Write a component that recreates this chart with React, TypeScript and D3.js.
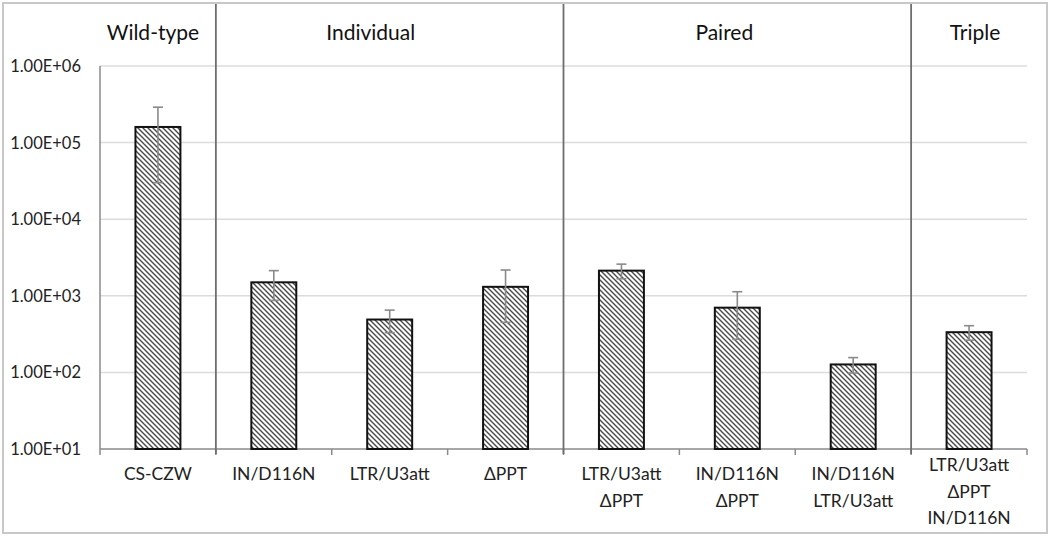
import React from "react";
import * as d3 from "d3";

const categories = ["CS-CZW", "IN/D116N", "LTR/U3att", "ΔPPT", "LTR/U3att ΔPPT", "IN/D116N ΔPPT", "IN/D116N LTR/U3att", "LTR/U3att ΔPPT IN/D116N"];
const categoryLines = [["CS-CZW"], ["IN/D116N"], ["LTR/U3att"], ["ΔPPT"], ["LTR/U3att", "ΔPPT"], ["IN/D116N", "ΔPPT"], ["IN/D116N", "LTR/U3att"], ["LTR/U3att", "ΔPPT", "IN/D116N"]];
const values = [160000, 1500, 490, 1310, 2130, 700, 127, 335];
const errors = [130000, 630, 160, 860, 460, 430, 29, 72];
const groupNames = ["Wild-type", "Individual", "Paired", "Triple"];
const groupStart = [0, 1, 4, 7];
const groupEnd = [1, 4, 7, 8];
const yTicks = [10, 100, 1000, 10000, 100000, 1000000];
const yTickLabels = ["1.00E+01", "1.00E+02", "1.00E+03", "1.00E+04", "1.00E+05", "1.00E+06"];

const W = 1050, H = 536;
const left = 100, right = 1027, top = 66, bottom = 449;
const labelNudge = [-5, -19, -13, 6];
const FONT = "Lato, 'Open Sans', sans-serif";

export default function App() {
  const x = d3.scaleBand<string>().domain(categories).range([left, right]).paddingInner(0.612).paddingOuter(0.306);
  const y = d3.scaleLog().domain([10, 1e6]).range([bottom, top]);
  const step = x.step();
  const bw = x.bandwidth();
  const boundaries = d3.range(categories.length + 1).map((i) => left + i * step);

  return (
    <svg width={W} height={H} style={{ position: "absolute", left: 0, top: 0, background: "#fff" }}>
      <defs>
        <pattern id="hatch" patternUnits="userSpaceOnUse" width={5} height={5}>
          <rect width={5} height={5} fill="#fff" />
          <path d="M-1,-1 L6,6 M-1,4 L1,6 M4,-1 L6,1" stroke="#4a4a4a" strokeWidth={1.4} />
        </pattern>
      </defs>
      <rect x={3} y={3} width={1044} height={530} fill="none" stroke="#c8c8c8" strokeWidth={2} />
      {yTicks.slice(1).map((t) => (
        <line key={t} x1={left} x2={right} y1={y(t)} y2={y(t)} stroke="#dcdcdc" strokeWidth={1.5} />
      ))}
      {yTicks.map((t, i) => (
        <text key={t} x={81} y={y(t) + 6} textAnchor="end" fontFamily={FONT} fontSize={16.5} fill="#222">
          {yTickLabels[i]}
        </text>
      ))}
      <line x1={left} x2={left} y1={top} y2={bottom} stroke="#8a8a8a" strokeWidth={1.5} />
      <line x1={left} x2={right} y1={bottom} y2={bottom} stroke="#8a8a8a" strokeWidth={1.5} />
      {boundaries.map((b, i) => (
        <line key={i} x1={b} x2={b} y1={bottom} y2={bottom + 6} stroke="#8a8a8a" strokeWidth={1.5} />
      ))}
      {groupStart.slice(1).map((g) => (
        <line key={g} x1={left + g * step} x2={left + g * step} y1={4} y2={454} stroke="#6e6e6e" strokeWidth={1.8} />
      ))}
      {categories.map((c, i) => (
        <rect key={c} x={x(c)} y={y(values[i])} width={bw} height={bottom - y(values[i])} fill="url(#hatch)" stroke="#111" strokeWidth={2} />
      ))}
      {categories.map((c, i) => {
        const cx = (x(c) as number) + bw / 2;
        const hi = y(values[i] + errors[i]);
        const lo = y(values[i] - errors[i]);
        return (
          <g key={c} stroke="#8a8a8a" strokeWidth={1.6}>
            <line x1={cx} x2={cx} y1={hi} y2={lo} />
            <line x1={cx - 5} x2={cx + 5} y1={hi} y2={hi} />
            <line x1={cx - 5} x2={cx + 5} y1={lo} y2={lo} />
          </g>
        );
      })}
      {categories.map((c, i) => {
        const cx = (x(c) as number) + bw / 2;
        const lines = categoryLines[i];
        const y0 = lines.length > 2 ? 471 : 480;
        return (
          <text key={c} textAnchor="middle" fontFamily={FONT} fontSize={17.5} fill="#222">
            {lines.map((l, j) => (
              <tspan key={j} x={cx} y={y0 + j * 26.5}>{l}</tspan>
            ))}
          </text>
        );
      })}
      {groupNames.map((g, i) => {
        const a = left + groupStart[i] * step;
        const b = left + groupEnd[i] * step;
        return (
          <text key={g} x={(a + b) / 2 + labelNudge[i]} y={40} textAnchor="middle" fontFamily={FONT} fontSize={21} fill="#111">
            {g}
          </text>
        );
      })}
    </svg>
  );
}
